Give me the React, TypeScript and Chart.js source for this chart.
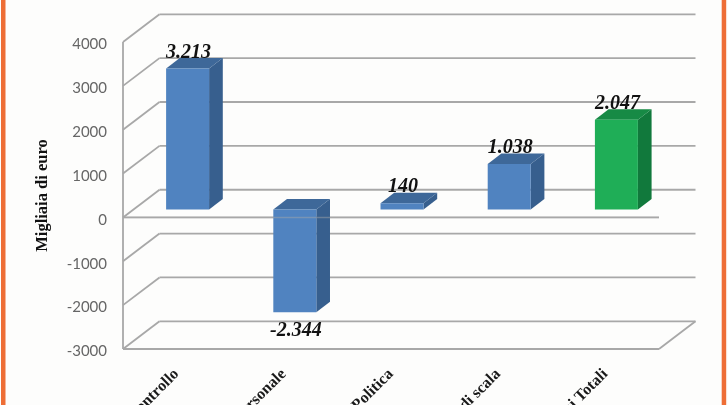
import React, { useEffect, useRef } from "react";
import { Chart, registerables } from "chart.js";

Chart.register(...registerables);

const categories = ["Organi di controllo", "Costi del personale", "Costi della Politica", "Economie di scala", "Risparmi Totali"];
const values = [3213, -2344, 140, 1038, 2047];
const frontColors = ["#5083C0", "#5083C0", "#5083C0", "#5083C0", "#1FAE57"];
const sideColors = ["#375F8E", "#375F8E", "#375F8E", "#375F8E", "#11793C"];
const topColors = ["#3E6899", "#3E6899", "#3E6899", "#3E6899", "#178A45"];
const yTicks = [4000, 3000, 2000, 1000, 0, -1000, -2000, -3000];
const axisTitle = "Migliaia di euro";

const GRID = "#a8a8a8";
const ORANGE = "#EE6E36";
const WALL_DX = 36.5;
const WALL_DY = -27.7;
const BAR_DX = 11;
const BAR_DY = -8;
const DEPTH_DX = 13.7;
const DEPTH_DY = -10.5;

const fmt = (v: number) => String(v).replace(/\B(?=(\d{3})+$)/g, ".");

const line = (ctx: CanvasRenderingContext2D, x0: number, y0: number, x1: number, y1: number) => {
  ctx.beginPath();
  ctx.moveTo(x0, y0);
  ctx.lineTo(x1, y1);
  ctx.stroke();
};

const poly = (ctx: CanvasRenderingContext2D, color: string, pts: number[][]) => {
  ctx.fillStyle = color;
  ctx.beginPath();
  pts.forEach(([x, y], i) => (i ? ctx.lineTo(x, y) : ctx.moveTo(x, y)));
  ctx.closePath();
  ctx.fill();
};

const scene3d = {
  id: "scene3d",
  beforeDraw(chart: any) {
    const { ctx, width, height } = chart;
    ctx.save();
    ctx.fillStyle = "#fdfdfc";
    ctx.fillRect(0, 0, width, height);
    ctx.fillStyle = ORANGE;
    ctx.fillRect(1, 0, 4.5, height);
    ctx.fillRect(721.7, 0, 4.5, height);
    ctx.restore();
  },
  beforeDatasetsDraw(chart: any) {
    const { ctx, chartArea: a, scales } = chart;
    const yS = scales.y;
    ctx.save();
    ctx.strokeStyle = GRID;
    ctx.lineWidth = 1.8;
    yTicks.forEach((t) => {
      const y = yS.getPixelForValue(t);
      line(ctx, a.left, y, a.left + WALL_DX, y + WALL_DY);
      line(ctx, a.left + WALL_DX, y + WALL_DY, a.right + WALL_DX, y + WALL_DY);
    });
    line(ctx, a.left, a.top, a.left, a.bottom);
    const zero = yS.getPixelForValue(0);
    line(ctx, a.left, zero, a.right, zero);
    line(ctx, a.left, a.bottom, a.right, a.bottom);
    line(ctx, a.right, a.bottom, a.right + WALL_DX, a.bottom + WALL_DY);
    ctx.restore();
  },
  beforeDatasetDraw(chart: any, args: any) {
    const { ctx } = chart;
    ctx.save();
    ctx.translate(BAR_DX, BAR_DY);
    args.meta.data.forEach((bar: any, i: number) => {
      const l = bar.x - bar.width / 2;
      const r = bar.x + bar.width / 2;
      const top = Math.min(bar.y, bar.base);
      const bottom = Math.max(bar.y, bar.base);
      poly(ctx, sideColors[i], [
        [r, top],
        [r + DEPTH_DX, top + DEPTH_DY],
        [r + DEPTH_DX, bottom + DEPTH_DY],
        [r, bottom],
      ]);
      poly(ctx, topColors[i], [
        [l, top],
        [l + DEPTH_DX, top + DEPTH_DY],
        [r + DEPTH_DX, top + DEPTH_DY],
        [r, top],
      ]);
    });
  },
  afterDatasetDraw(chart: any) {
    chart.ctx.restore();
  },
  afterDatasetsDraw(chart: any) {
    const { ctx, chartArea: a, scales } = chart;
    const bars = chart.getDatasetMeta(0).data;
    ctx.save();
    ctx.strokeStyle = "rgba(168,168,168,0.45)";
    ctx.lineWidth = 1.4;
    const zero = scales.y.getPixelForValue(0);
    line(ctx, a.left, zero, a.right, zero);
    ctx.fillStyle = "#111111";
    ctx.font = "italic bold 20px 'Liberation Serif'";
    ctx.textAlign = "center";
    ctx.textBaseline = "middle";
    values.forEach((v, i) => {
      const b = bars[i];
      const y = v >= 0 ? b.y + BAR_DY - 16 : b.y + BAR_DY + 19;
      ctx.fillText(fmt(v), b.x + BAR_DX + 1, y);
    });
    ctx.restore();
  },
};

export default function App() {
  const ref = useRef<HTMLCanvasElement>(null);
  useEffect(() => {
    const chart = new Chart(ref.current as HTMLCanvasElement, {
      type: "bar",
      data: {
        labels: categories,
        datasets: [
          {
            data: values,
            backgroundColor: frontColors,
            borderWidth: 0,
            categoryPercentage: 1,
            barPercentage: 0.401,
            clip: false,
          } as any,
        ],
      },
      plugins: [scene3d],
      options: {
        responsive: false,
        animation: false,
        devicePixelRatio: 1,
        layout: { padding: { top: 42, right: 69, left: 0, bottom: 0 } },
        plugins: { legend: { display: false }, tooltip: { enabled: false }, title: { display: false } },
        scales: {
          x: {
            grid: { display: false },
            border: { display: false },
            afterFit: (s: any) => {
              s.height = 56;
            },
            ticks: {
              autoSkip: false,
              minRotation: 45,
              maxRotation: 45,
              padding: 8,
              color: "#1a1a1a",
              font: { family: "'Liberation Serif'", weight: "bold", size: 16 },
            },
          },
          y: {
            min: -3000,
            max: 4000,
            afterFit: (s: any) => {
              s.width = 123;
            },
            afterBuildTicks: (s: any) => {
              s.ticks = yTicks.map((value) => ({ value }));
            },
            grid: { display: false },
            border: { display: false },
            ticks: {
              padding: 8,
              color: "#666666",
              callback: (v: number) => ["", String(v)],
              font: { family: "Lato", size: 15, lineHeight: "5px" },
            },
            title: {
              display: true,
              text: axisTitle,
              color: "#111111",
              padding: { top: 33, bottom: 0 },
              font: { family: "'Liberation Serif'", weight: "bold", size: 16.5 },
            },
          },
        },
      },
    } as any);
    return () => chart.destroy();
  }, []);
  return (
    <div style={{ position: "fixed", left: 0, top: 0, width: 728, height: 405, overflow: "hidden" }}>
      <canvas ref={ref} width={728} height={405} style={{ display: "block" }} />
    </div>
  );
}
